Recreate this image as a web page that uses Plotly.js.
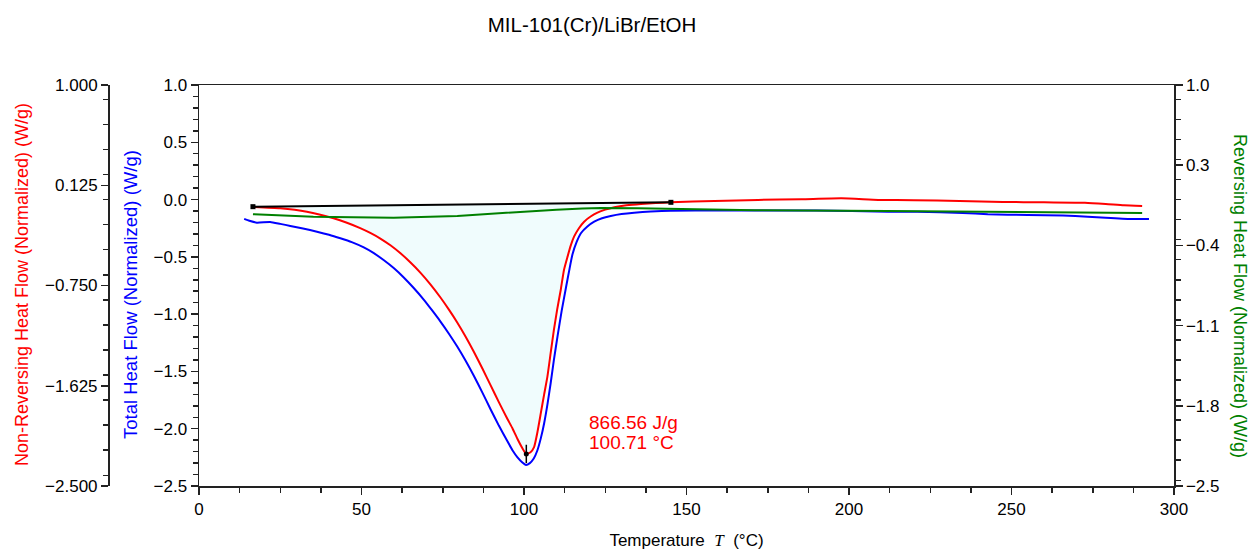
<!DOCTYPE html>
<html>
<head>
<meta charset="utf-8">
<script src="https://cdn.plot.ly/plotly-3.0.1.min.js"></script>
<style>html,body{margin:0;padding:0;background:#fff;}#chart{width:1252px;height:550px;}</style>
</head>
<body>
<div id="chart"></div>
<script>
// Non-reversing heat flow (red), W/g
const redT = [16.6, 25.0, 33.2, 41.4, 45.5, 49.6, 52.7, 55.8, 58.9, 62.0, 65.0, 68.1, 71.2, 74.3, 77.0, 79.5, 82.0, 84.6, 87.2, 89.7, 92.3, 94.9, 96.5, 98.0, 99.5, 100.7, 102.0, 103.1, 104.2, 105.2, 106.2, 107.2, 108.2, 109.2, 110.2, 111.3, 112.3, 113.4, 114.4, 115.4, 116.9, 118.5, 120.5, 122.6, 125, 127.8, 131.5, 136.0, 140.5, 145.2, 158.6, 172, 185.4, 197.7, 209, 220, 234, 247.3, 260, 272.6, 279, 284.6, 290.2];
const redV = [-0.064, -0.076, -0.106, -0.163, -0.202, -0.249, -0.291, -0.34, -0.399, -0.469, -0.547, -0.637, -0.74, -0.855, -0.965, -1.075, -1.195, -1.33, -1.475, -1.62, -1.77, -1.915, -2.0, -2.09, -2.17, -2.22, -2.205, -2.16, -2.02, -1.86, -1.70, -1.545, -1.34, -1.138, -0.96, -0.789, -0.614, -0.498, -0.40, -0.324, -0.25, -0.193, -0.148, -0.114, -0.088, -0.067, -0.05, -0.038, -0.03, -0.024, -0.012, -0.003, 0.003, 0.011, -0.003, -0.006, -0.012, -0.021, -0.024, -0.027, -0.038, -0.05, -0.056];
// Total heat flow (blue), W/g
const blueT = [13.9, 15.5, 17.8, 21.9, 25, 28.1, 32, 36.3, 40, 43.5, 47, 50.7, 53.8, 56.8, 60, 63.0, 66, 69.2, 71.8, 74.3, 77, 79.5, 82, 84.6, 87.2, 89.7, 92.3, 94.9, 96.5, 98.0, 99.5, 100.6, 101.8, 103, 104.1, 105.2, 106.2, 107.2, 108.2, 109.2, 110.3, 111.6, 112.9, 113.9, 114.9, 116.2, 117.5, 119.5, 121.6, 124, 126.7, 130, 133.9, 139, 145.2, 160, 172, 190, 212, 221, 235, 242.7, 255, 265.8, 273.5, 279, 286.8, 292.3];
const blueV = [-0.169, -0.185, -0.202, -0.195, -0.212, -0.230, -0.253, -0.280, -0.307, -0.338, -0.372, -0.418, -0.468, -0.528, -0.6, -0.68, -0.77, -0.875, -0.97, -1.065, -1.175, -1.285, -1.405, -1.54, -1.685, -1.83, -1.975, -2.11, -2.19, -2.25, -2.295, -2.316, -2.30, -2.26, -2.19, -2.08, -1.952, -1.79, -1.603, -1.40, -1.196, -0.97, -0.77, -0.62, -0.48, -0.37, -0.294, -0.235, -0.193, -0.163, -0.143, -0.126, -0.114, -0.104, -0.097, -0.095, -0.095, -0.095, -0.106, -0.106, -0.117, -0.128, -0.135, -0.14, -0.149, -0.158, -0.169, -0.17];
// Reversing heat flow (green), W/g
const greenT = [16.6, 22.9, 35.2, 59.9, 66, 79.5, 88.8, 96.9, 103, 110, 118, 123.6, 135, 150.4, 171, 212, 260, 290.2];
const greenV = [-0.128, -0.134, -0.149, -0.158, -0.155, -0.143, -0.126, -0.11, -0.098, -0.088, -0.078, -0.073, -0.076, -0.082, -0.093, -0.1, -0.108, -0.117];
// Integration baseline and peak
const baseT = [16.6, 145.2];
const baseV = [-0.062, -0.024];
const peakT = 100.71;
const peakV = -2.22;
const peakArea = "866.56 J/g";
const peakLabel = "100.71 °C";
// Axis titles
const xTitle = 'Temperature  <span style="font-family:Liberation Serif"><i>T</i></span>  (°C)';
const redTitle = 'Non-Reversing Heat Flow (Normalized) (W/g)';
const blueTitle = 'Total Heat Flow (Normalized) (W/g)';
const greenTitle = 'Reversing Heat Flow (Normalized) (W/g)';
const chartTitle = 'MIL-101(Cr)/LiBr/EtOH';

// Filled region between the red curve and the baseline
const fillX = [], fillY = [];
for (let i = 0; i < redT.length; i++) {
  if (redT[i] >= baseT[0] && redT[i] <= baseT[1]) { fillX.push(redT[i]); fillY.push(redV[i]); }
}
for (let i = baseT.length - 1; i >= 0; i--) { fillX.push(baseT[i]); fillY.push(baseV[i]); }

const FONT = "Liberation Sans, Arial, sans-serif";
const traces = [
  {x: fillX, y: fillY, yaxis: 'y2', mode: 'lines', fill: 'toself', fillcolor: 'rgb(240,252,253)', line: {width: 0, shape: 'spline', smoothing: 0.5}, hoverinfo: 'skip', showlegend: false},
  {x: greenT, y: greenV, yaxis: 'y3', mode: 'lines', line: {color: '#008000', width: 2}, showlegend: false},
  {x: blueT, y: blueV, yaxis: 'y', mode: 'lines', line: {color: '#0000ff', width: 2, shape: 'spline', smoothing: 0.5}, showlegend: false},
  {x: redT, y: redV, yaxis: 'y2', mode: 'lines', line: {color: '#ff0000', width: 2, shape: 'spline', smoothing: 0.5}, showlegend: false},
  {x: baseT, y: baseV, yaxis: 'y2', mode: 'lines+markers', line: {color: '#000000', width: 2}, marker: {symbol: 'square', size: 5, color: '#000'}, showlegend: false},
  {x: [peakT, peakT], y: [peakV + 0.08, peakV - 0.08], yaxis: 'y2', mode: 'lines', line: {color: '#000', width: 1.5}, showlegend: false},
  {x: [peakT], y: [peakV], yaxis: 'y2', mode: 'markers', marker: {size: 5, color: '#000'}, showlegend: false}
];

const L = 100, R = 78, T = 85, B = 64, W = 1252, H = 550;
const plotW = W - L - R, plotH = H - T - B;
const d0 = (199 - L) / plotW;
const outerPos = (108 - L) / plotW;
const px = p => (p - L) / plotW;
const py = p => (H - B - p) / plotH;

const tickFont = {family: FONT, size: 17, color: '#000'};
const axisBase = {
  showgrid: false, zeroline: false, showline: true, linecolor: '#222', linewidth: 1.5,
  ticks: 'outside', ticklen: 7, tickcolor: '#222', tickwidth: 1.5, tickfont: tickFont
};

const layout = {
  width: W, height: H,
  margin: {l: L, r: R, t: T, b: B},
  paper_bgcolor: '#fff', plot_bgcolor: '#fff',
  font: {family: FONT, color: '#000'},
  title: {text: chartTitle, font: {family: FONT, size: 20.5, color: '#000'}, xref: 'container', x: 592 / W, xanchor: 'center', yref: 'container', y: 1 - 25 / H, yanchor: 'middle'},
  xaxis: Object.assign({}, axisBase, {
    domain: [d0, 1], range: [0, 300], tick0: 0, dtick: 50, mirror: true, anchor: 'y',
    minor: {dtick: 12.5, ticks: 'outside', ticklen: 5, tickcolor: '#222', tickwidth: 1.5},
    title: {text: xTitle, font: {family: FONT, size: 17, color: '#000'}, standoff: 18}
  }),
  yaxis: Object.assign({}, axisBase, {
    range: [-2.5, 1], tick0: -2.5, dtick: 0.5, tickformat: '.1f', anchor: 'x',
    minor: {dtick: 0.1, ticks: 'outside', ticklen: 5, tickcolor: '#222', tickwidth: 1.5}
  }),
  yaxis2: Object.assign({}, axisBase, {
    range: [-2.5, 1], tick0: -2.5, dtick: 0.875, tickformat: '.3f', overlaying: 'y', anchor: 'free', position: outerPos, side: 'left',
    minor: {dtick: 0.21875, ticks: 'outside', ticklen: 5, tickcolor: '#222', tickwidth: 1.5}
  }),
  yaxis3: Object.assign({}, axisBase, {
    range: [-2.5, 1], tick0: -2.5, dtick: 0.7, tickformat: '.1f', overlaying: 'y', anchor: 'x', side: 'right',
    minor: {dtick: 0.175, ticks: 'outside', ticklen: 5, tickcolor: '#222', tickwidth: 1.5}
  }),
  annotations: [
    {x: 119.3, y: -1.949, xref: 'x', yref: 'y2', text: peakArea, showarrow: false, xanchor: 'left', yanchor: 'middle', align: 'left', font: {family: FONT, size: 19, color: '#ff0000'}},
    {x: 119.3, y: -2.124, xref: 'x', yref: 'y2', text: peakLabel, showarrow: false, xanchor: 'left', yanchor: 'middle', align: 'left', font: {family: FONT, size: 19, color: '#ff0000'}},
    {x: px(22), y: py(285), xref: 'paper', yref: 'paper', text: redTitle, textangle: -90, showarrow: false, xanchor: 'center', yanchor: 'middle', font: {family: FONT, size: 18, color: '#ff0000'}},
    {x: px(130), y: py(295), xref: 'paper', yref: 'paper', text: blueTitle, textangle: -90, showarrow: false, xanchor: 'center', yanchor: 'middle', font: {family: FONT, size: 18.5, color: '#0000ff'}},
    {x: px(1240), y: py(296), xref: 'paper', yref: 'paper', text: greenTitle, textangle: 90, showarrow: false, xanchor: 'center', yanchor: 'middle', font: {family: FONT, size: 18, color: '#008000'}}
  ],
  showlegend: false
};

Plotly.newPlot('chart', traces, layout, {displayModeBar: false, staticPlot: true});
</script>
</body>
</html>
